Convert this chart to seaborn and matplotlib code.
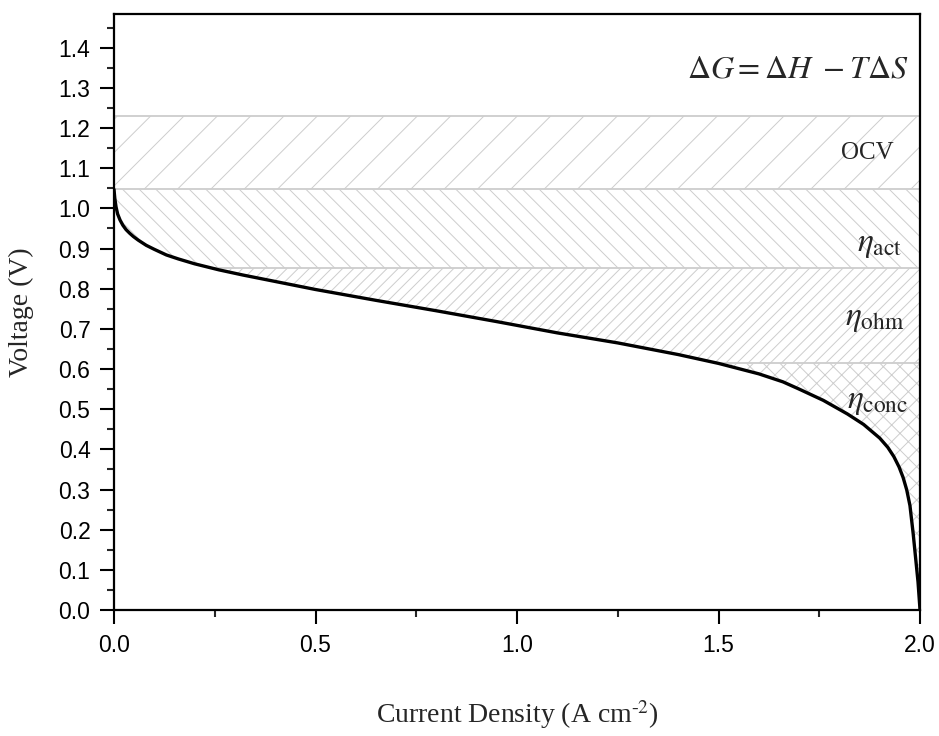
import numpy as np
import pandas as pd
import matplotlib
matplotlib.use("Agg")
import matplotlib.pyplot as plt
import seaborn as sns

# polarization curve
current = [0.0, 0.002, 0.005, 0.009, 0.015, 0.022, 0.03, 0.039, 0.048, 0.06, 0.08, 0.1,
           0.13, 0.16, 0.2, 0.26, 0.32, 0.38, 0.5,
           0.65, 0.8, 0.95, 1.1, 1.25, 1.4, 1.5, 1.6, 1.66, 1.7, 1.76, 1.82, 1.86, 1.9,
           1.92, 1.935, 1.948, 1.958, 1.967, 1.975, 1.983, 1.99, 1.995, 2.0]
voltage = [1.047, 1.025, 1.004, 0.986, 0.971, 0.958, 0.947, 0.938, 0.930, 0.921, 0.908, 0.898,
           0.884, 0.874, 0.862, 0.847, 0.834, 0.822, 0.798,
           0.771, 0.745, 0.718, 0.690, 0.665, 0.636, 0.614, 0.588, 0.568, 0.550, 0.522, 0.488, 0.462, 0.428,
           0.405, 0.382, 0.356, 0.33, 0.299, 0.26, 0.19, 0.12, 0.07, 0.0]

# loss bands (V)
v_rev = 1.23
v_ocv = 1.047
v_act = 0.851
v_ohm = 0.614

df = pd.DataFrame({"Current": current, "Voltage": voltage})

sns.set_style("ticks")
plt.rcParams["font.family"] = ["Liberation Sans", "DejaVu Sans"]
plt.rcParams["mathtext.fontset"] = "stix"
plt.rcParams["hatch.linewidth"] = 0.7

fig = plt.figure(figsize=(9.39, 7.36), dpi=100)
ax = fig.add_axes([0.1214, 0.1712, 0.8584, 0.8098])

hcol = "#cdcdcd"
xf = np.linspace(0, 2.0, 4001)
vf = np.interp(xf, current, voltage)

# OCV band
ax.fill_between([0, 2.0], v_ocv, v_rev, facecolor="none", edgecolor=hcol, hatch="/", linewidth=0)
# activation
ax.fill_between(xf, np.maximum(vf, v_act), v_ocv, where=vf < v_ocv, facecolor="none",
                edgecolor=hcol, hatch="\\\\", linewidth=0)
# ohmic
ax.fill_between(xf, np.maximum(vf, v_ohm), v_act, where=vf < v_act, facecolor="none",
                edgecolor=hcol, hatch="///", linewidth=0)
# concentration
ax.fill_between(xf, vf, v_ohm, where=vf < v_ohm, facecolor="none",
                edgecolor=hcol, hatch="xx", linewidth=0)
ax.hlines([v_rev, v_ocv], 0, 2.0, color=hcol, linewidth=1.3)
ax.hlines(v_act, xf[vf < v_act][0], 2.0, color=hcol, linewidth=1.3)
ax.hlines(v_ohm, xf[vf < v_ohm][0], 2.0, color=hcol, linewidth=1.3)

sns.lineplot(data=df, x="Current", y="Voltage", sort=False, color="black", linewidth=2.4, ax=ax)

ax.set_xlim(0, 2.0)
ax.set_ylim(0, 1.484)
ax.set_xticks(np.arange(0, 2.01, 0.5))
ax.set_xticks(np.arange(0.25, 2.0, 0.5), minor=True)
ax.set_yticks(np.arange(0, 1.41, 0.1))
ax.set_yticks(np.arange(0.05, 1.48, 0.1), minor=True)
ax.set_xticklabels(["0.0", "0.5", "1.0", "1.5", "2.0"])
ax.set_yticklabels([f"{v:.1f}" for v in np.arange(0, 1.41, 0.1)])
ax.tick_params(which="major", direction="out", length=10, width=1.5, labelsize=16.5, pad=7, colors="black")
ax.tick_params(which="minor", direction="out", length=5, width=1.5)
for s in ax.spines.values():
    s.set_linewidth(1.6)
    s.set_color("black")

ax.set_xlabel("Current Density (A cm$^{\\mathregular{\u2010}2}$)", family="Liberation Serif",
              fontsize=20, labelpad=30)
ax.set_ylabel("Voltage (V)", family="Liberation Serif", fontsize=20, labelpad=18)

ax.text(1.972, 1.345, r"$\Delta G = \Delta H\ - T\Delta S$", fontsize=23, ha="right", va="center")
ax.text(1.935, 1.138, "OCV", family="Liberation Serif", fontsize=18, ha="right", va="center")
ax.text(1.955, 0.91, r"$\eta_{\mathrm{act}}$", fontsize=24, ha="right", va="center")
ax.text(1.96, 0.725, r"$\eta_{\mathrm{ohm}}$", fontsize=24, ha="right", va="center")
ax.text(1.972, 0.52, r"$\eta_{\mathrm{conc}}$", fontsize=24, ha="right", va="center")

fig.savefig("out.png", dpi=100)
